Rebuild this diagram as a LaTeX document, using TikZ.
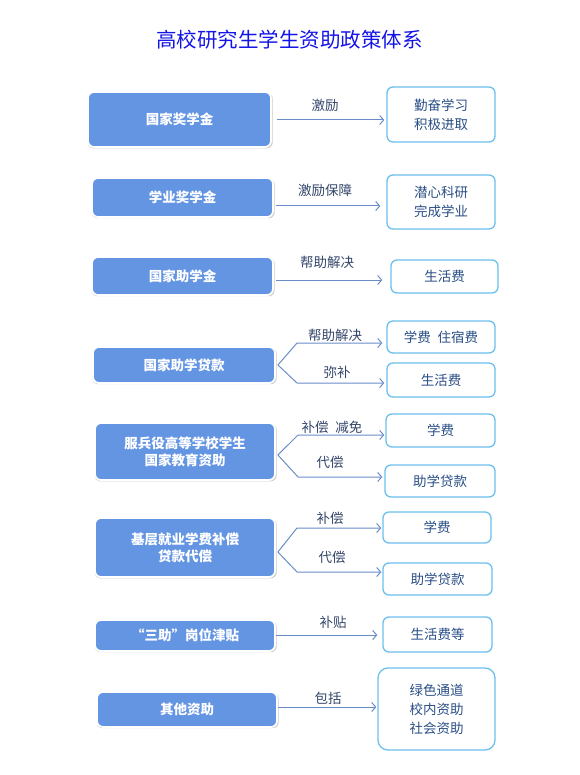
\documentclass[tikz,border=0pt]{standalone}
\usepackage{fontspec}
\setmainfont{Noto Sans CJK SC}
\usepackage{tikz}
\usetikzlibrary{arrows.meta, shadows, positioning}
\definecolor{fundblue}{HTML}{6495E3}
\definecolor{goalline}{HTML}{6CC0EE}
\definecolor{goaltext}{HTML}{2A4F86}
\definecolor{linkblue}{HTML}{6A8CC8}
\definecolor{labeltext}{HTML}{34466A}
\definecolor{titleblue}{HTML}{1414E6}

\begin{document}
\begin{tikzpicture}[x=1pt,y=-1pt,
  fund/.style={draw=white, line width=1.8pt, fill=fundblue, rounded corners=6pt,
    text=white, font=\fontsize{13.5}{17}\selectfont\bfseries, align=center,
    inner sep=0pt, drop shadow={opacity=0.45, fill=black!45, shadow scale=1.012,
    shadow xshift=0.6pt, shadow yshift=-1pt}},
  goal/.style={draw=goalline, line width=1.3pt, fill=white, rounded corners=6pt,
    text=goaltext, font=\fontsize{13.5}{19}\selectfont, align=center, inner sep=0pt},
  link/.style={draw=linkblue, line width=1pt, -{Straight Barb[length=4pt,width=9pt]}},
  tag/.style={text=labeltext, font=\fontsize{13.5}{17}\selectfont, inner sep=0pt}]
\useasboundingbox (0,0) rectangle (579,775);
\node [text=titleblue, font=\fontsize{20.5}{24}\selectfont] (title) at (289.5,40) {高校研究生学生资助政策体系};
% left column
\node [fund, minimum width=183pt, minimum height=55pt] (fa) at (179.5,119.5) {国家奖学金};
\node [fund, minimum width=181pt, minimum height=39pt] (fb) at (182.5,197.5) {学业奖学金};
\node [fund, minimum width=181pt, minimum height=38pt] (fc) at (182.5,276) {国家助学金};
\node [fund, minimum width=182pt, minimum height=36pt] (fd) at (184,365) {国家助学贷款};
\node [fund, minimum width=180pt, minimum height=57pt] (fe) at (185,451.5) {服兵役高等学校学生\\国家教育资助};
\node [fund, minimum width=180pt, minimum height=59pt] (ff) at (185,547.5) {基层就业学费补偿\\贷款代偿};
\node [fund, minimum width=180pt, minimum height=31pt] (fg) at (185,635.5) {“三助”岗位津贴};
\node [fund, minimum width=180pt, minimum height=35pt] (fh) at (187,709.5) {其他资助};
% right column
\node [goal, minimum width=108pt, minimum height=55pt] (ga) at (441,114.5) {勤奋学习\\积极进取};
\node [goal, minimum width=108pt, minimum height=54pt] (gb) at (441,202) {潜心科研\\完成学业};
\node [goal, minimum width=107pt, minimum height=33pt] (gc) at (444.5,276.5) {生活费};
\node [goal, minimum width=108pt, minimum height=32pt] (gd) at (441,337) {学费\hspace{0.5em}住宿费};
\node [goal, minimum width=108pt, minimum height=34pt] (ge) at (441,380) {生活费};
\node [goal, minimum width=109pt, minimum height=33pt] (gf) at (440.5,430.5) {学费};
\node [goal, minimum width=110pt, minimum height=32pt] (gg) at (440,481) {助学贷款};
\node [goal, minimum width=108pt, minimum height=31pt] (gh) at (437,527.5) {学费};
\node [goal, minimum width=109pt, minimum height=32pt] (gi) at (437.5,579) {助学贷款};
\node [goal, minimum width=109pt, minimum height=35pt] (gj) at (437.5,634.5) {生活费等};
\node [goal, minimum width=117pt, minimum height=82pt, rounded corners=10pt] (gk) at (436.5,709) {绿色通道\\校内资助\\社会资助};
% connectors
\draw [link] ([xshift=5pt]fa.east |- 0,120) -- ([xshift=-2pt]ga.west |- 0,120);
\draw [link] ([xshift=2pt]fb.east |- 0,206) -- ([xshift=-6pt]gb.west |- 0,206);
\draw [link] ([xshift=2pt]fc.east |- 0,280) -- ([xshift=-8pt]gc.west |- 0,280);
\draw [link] ([xshift=2pt]fd.east) -- (297,343) -- ([xshift=-4pt]gd.west |- 0,343);
\draw [link] ([xshift=2pt]fd.east) -- (297,383) -- ([xshift=-2pt]ge.west |- 0,383);
\draw [link] ([xshift=2pt]fe.east |- 0,455) -- (298,435) -- ([xshift=-1pt]gf.west |- 0,435);
\draw [link] ([xshift=2pt]fe.east |- 0,455) -- (298,477) -- ([xshift=-2pt]gg.west |- 0,477);
\draw [link] ([xshift=2pt]ff.east |- 0,552) -- (297,528) -- ([xshift=-1pt]gh.west |- 0,528);
\draw [link] ([xshift=2pt]ff.east |- 0,552) -- (297,572) -- ([xshift=-1pt]gi.west |- 0,572);
\draw [link] (fg.east |- 0,635) -- ([xshift=-5pt]gj.west |- 0,635);
\draw [link] (fh.east |- 0,707) -- ([xshift=-1pt]gk.west |- 0,707);
% connector labels
\node [tag] (ta) at (325,105) {激励};
\node [tag] (tb) at (325,190) {激励保障};
\node [tag] (tc) at (327,262) {帮助解决};
\node [tag] (td) at (335,335) {帮助解决};
\node [tag] (te) at (337,372) {弥补};
\node [tag] (tf) at (332,427) {补偿\hspace{0.5em}减免};
\node [tag] (tg) at (330,462) {代偿};
\node [tag] (th) at (330,518) {补偿};
\node [tag] (ti) at (332,557) {代偿};
\node [tag] (tj) at (333,622) {补贴};
\node [tag] (tk) at (328,698) {包括};
\end{tikzpicture}
\end{document}
